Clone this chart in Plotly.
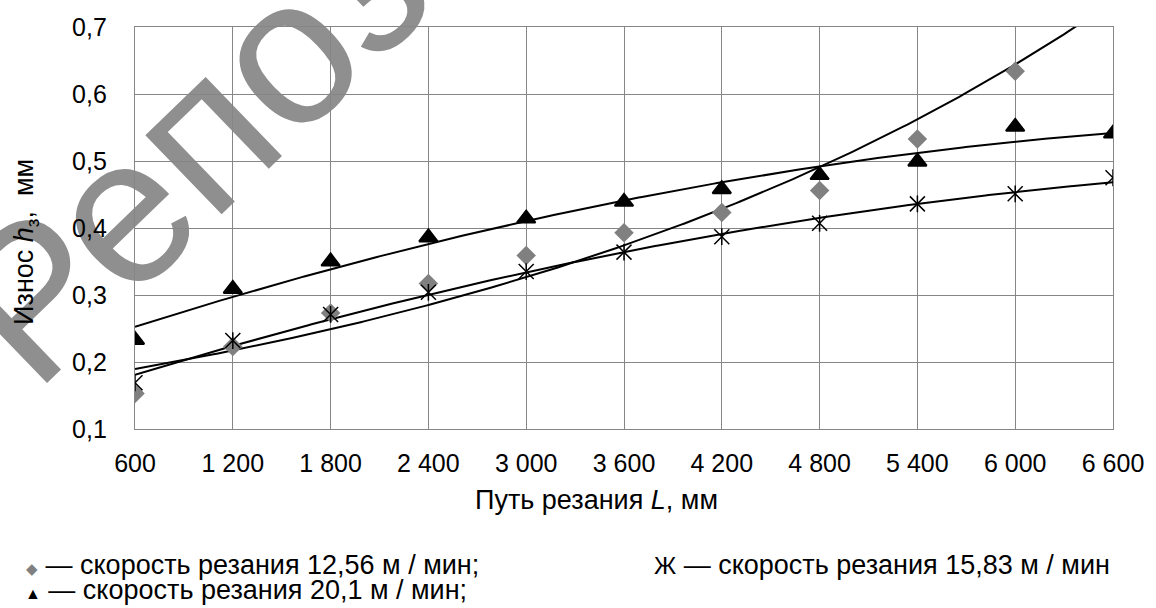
import numpy as np
import plotly.graph_objects as go

# ---- data ----
path_L = [600, 1200, 1800, 2400, 3000, 3600, 4200, 4800, 5400, 6000, 6600]
x_ticktext = ["600", "1 200", "1 800", "2 400", "3 000", "3 600", "4 200", "4 800", "5 400", "6 000", "6 600"]
y_tickvals = [0.1, 0.2, 0.3, 0.4, 0.5, 0.6, 0.7]
y_ticktext = ["0,1", "0,2", "0,3", "0,4", "0,5", "0,6", "0,7"]

L_1256 = [600, 1200, 1800, 2400, 3000, 3600, 4200, 4800, 5400, 6000]
wear_1256 = [0.153, 0.223, 0.273, 0.317, 0.359, 0.393, 0.423, 0.456, 0.533, 0.634]

L_1583 = path_L
wear_1583 = [0.169, 0.232, 0.271, 0.304, 0.335, 0.364, 0.387, 0.407, 0.436, 0.451, 0.475]

L_201 = path_L
wear_201 = [0.233, 0.309, 0.350, 0.386, 0.414, 0.439, 0.458, 0.479, 0.499, 0.551, 0.541]

legend_1256 = "— скорость резания 12,56 м / мин;"
legend_201 = "— скорость резания 20,1 м / мин;"
legend_1583 = "— скорость резания 15,83 м / мин"

GRID = "#868686"
GRAY = "#808080"
FONT = "Liberation Sans, Arial, sans-serif"

# ---- trend lines (fits of the data) ----
xs = np.linspace(600, 6600, 300)
b1, a1 = np.polyfit(np.array(L_1256, float), np.log(wear_1256), 1)
trend_1256 = np.exp(a1 + b1 * xs)
p2 = np.polyfit(np.array(L_1583, float), wear_1583, 2)
trend_1583 = np.polyval(p2, xs)
p3 = np.polyfit(np.array(L_201, float), wear_201, 2)
trend_201 = np.polyval(p3, xs)

fig = go.Figure()
line = dict(color="black", width=2)
for tr in (trend_1256, trend_1583, trend_201):
    fig.add_trace(go.Scatter(x=xs, y=tr, mode="lines", line=line, hoverinfo="skip"))

fig.add_trace(go.Scatter(x=L_1256, y=wear_1256, mode="markers",
                         marker=dict(symbol="diamond", size=15, color=GRAY, line=dict(width=0))))
fig.add_trace(go.Scatter(x=L_201, y=wear_201, mode="markers",
                         marker=dict(symbol="triangle-up", size=16, color="black",
                                     line=dict(width=2, color="black"))))
fig.add_trace(go.Scatter(x=L_1583, y=wear_1583, mode="markers",
                         marker=dict(symbol="x-thin", size=15, color="black",
                                     line=dict(width=1.5, color="black"))))
fig.add_trace(go.Scatter(x=L_1583, y=wear_1583, mode="markers",
                         marker=dict(symbol="line-ns", size=12, color="black",
                                     line=dict(width=1.5, color="black"))))

W, H = 1156, 608
ml, mr, mt, mb = 135, 35, 27, 179
pw, ph = W - ml - mr, H - mt - mb


def px(x):
    return (x - ml) / pw


def py(y):
    return (H - mb - y) / ph


TS = 27
annotations = [
    dict(text="Путь резания <i>L</i>, мм", x=px(600), y=py(500), xref="paper", yref="paper",
         showarrow=False, font=dict(size=TS), xanchor="center", yanchor="middle"),
    dict(text="Износ <i>h</i><sub>з</sub>,  мм", x=px(25), y=py(242), xref="paper", yref="paper",
         showarrow=False, font=dict(size=TS), textangle=-90, xanchor="center", yanchor="middle"),
    dict(text="<span style='color:%s;font-size:15px'>◆</span> %s" % (GRAY, legend_1256),
         x=px(23), y=py(565), xref="paper", yref="paper", showarrow=False,
         font=dict(size=TS), xanchor="left", yanchor="middle"),
    dict(text="<span style='font-size:16px'>▲</span> %s" % legend_201,
         x=px(22), y=py(590), xref="paper", yref="paper", showarrow=False,
         font=dict(size=TS), xanchor="left", yanchor="middle"),
    dict(text="<span style='font-size:24px'>Ж</span> %s" % legend_1583,
         x=px(656), y=py(565), xref="paper", yref="paper", showarrow=False,
         font=dict(size=TS), xanchor="left", yanchor="middle"),
]

fig.add_shape(type="rect", xref="paper", yref="paper",
              x0=px(414), x1=px(424), y0=py(-97), y1=py(-107), layer="below",
              line=dict(width=0), fillcolor="rgba(0,0,0,0)",
              label=dict(text="Репозиторий", textangle=-44, textposition="middle center",
                         font=dict(size=208, color="#8f8f8f", family=FONT)))

fig.update_layout(
    width=W, height=H, margin=dict(l=ml, r=mr, t=mt, b=mb),
    paper_bgcolor="white", plot_bgcolor="rgba(0,0,0,0)",
    showlegend=False, font=dict(family=FONT, size=25, color="black"),
    annotations=annotations,
)
fig.update_xaxes(range=[600, 6600], tickvals=path_L, ticktext=x_ticktext,
                 showgrid=True, gridcolor=GRID, gridwidth=1.3,
                 showline=True, linecolor=GRID, linewidth=1.3, mirror=True,
                 ticks="", ticklabelstandoff=12, zeroline=False)
fig.update_yaxes(range=[0.1, 0.7], tickvals=y_tickvals, ticktext=y_ticktext,
                 showgrid=True, gridcolor=GRID, gridwidth=1.3,
                 showline=True, linecolor=GRID, linewidth=1.3, mirror=True,
                 ticks="", ticklabelstandoff=22, zeroline=False)

fig.write_html("out.html")
